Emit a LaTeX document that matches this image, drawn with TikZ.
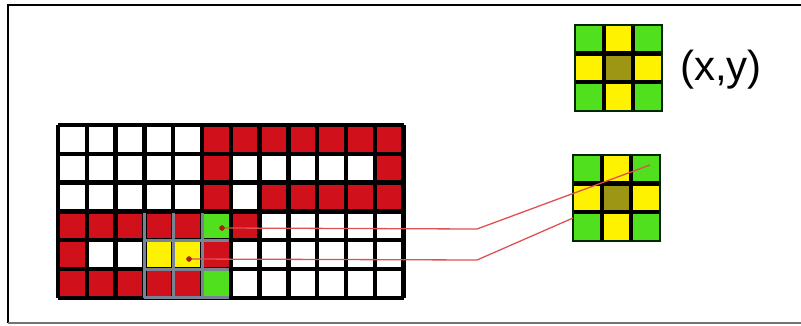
\documentclass[tikz,border=0pt]{standalone}
\usepackage{fontspec}
\setmainfont{Liberation Sans}
\definecolor{cw}{RGB}{255,255,255}
\definecolor{cr}{RGB}{208,16,26}
\definecolor{cg}{RGB}{80,224,30}
\definecolor{cy}{RGB}{255,242,0}
\definecolor{co}{RGB}{156,150,20}
\definecolor{linkred}{RGB}{224,80,80}
\definecolor{dotred}{RGB}{170,30,10}
\definecolor{blockgray}{RGB}{120,132,148}
\begin{document}
\begin{tikzpicture}[x=1pt,y=-1pt,
    gridline/.style={line width=4.5pt,black},
    link/.style={linkred,line width=1.3pt}]
  \useasboundingbox (0,0) rectangle (801,325);
  % frame
  \draw[line width=2pt] (801,5) -- (8,5) -- (8,323);
  \draw[line width=1.5pt,black!55] (8,323) -- (801,323);
  % image grid, 12 x 6 cells
  \foreach \cl [count=\r from 0] in {
      {cw,cw,cw,cw,cw,cr,cr,cr,cr,cr,cr,cr},
      {cw,cw,cw,cw,cw,cr,cw,cw,cw,cw,cw,cr},
      {cw,cw,cw,cw,cw,cr,cw,cr,cr,cr,cr,cr},
      {cr,cr,cr,cr,cr,cg,cr,cw,cw,cw,cw,cw},
      {cr,cw,cw,cy,cy,cr,cw,cw,cw,cw,cw,cw},
      {cr,cr,cr,cr,cr,cg,cw,cw,cw,cw,cw,cw}}{
    \foreach \c [count=\k from 0] in \cl
      \fill[\c] (58+\k*28.8,125+\r*28.8) rectangle ++(28.8,28.8);
  }
  \foreach \k in {0,...,12}
    \draw[gridline] (58+\k*28.8,125) -- (58+\k*28.8,297.8);
  \foreach \r in {0,...,6}
    \draw[gridline] (58,125+\r*28.8) -- (403.6,125+\r*28.8);
  % neighbourhood of the pixel
  \foreach \k in {3,...,5}
    \draw[blockgray,line width=3pt] (58+\k*28.8,213.4) -- (58+\k*28.8,297.8);
  \foreach \r in {4,...,6}
    \draw[blockgray,line width=3pt] (144.4,125+\r*28.8) -- (228.8,125+\r*28.8);
  % 3 x 3 masks
  \foreach \kx/\ky in {575/25,573/155}{
    \foreach \cl [count=\r from 0] in {{cg,cy,cg},{cy,co,cy},{cg,cy,cg}}{
      \foreach \c [count=\k from 0] in \cl
        \fill[\c] (\kx+\k*29,\ky+\r*28.5) rectangle ++(29,28.5);
    }
    \foreach \k in {1,2}{
      \draw[gridline] (\kx+\k*29,\ky) -- (\kx+\k*29,\ky+85.5);
      \draw[gridline] (\kx,\ky+\k*28.5) -- (\kx+87,\ky+\k*28.5);
    }
    \draw[line width=2pt,black!85!green] (\kx,\ky) rectangle (\kx+87,\ky+85.5);
  }
  \node (xy) at (721,70) {\fontsize{42}{48}\selectfont (x,y)};
  % links from pixels to the mask
  \coordinate (p1) at (222,228);
  \coordinate (b1) at (477,229);
  \coordinate (k1) at (650,165);
  \coordinate (p2) at (189,259);
  \coordinate (b2) at (477,260);
  \coordinate (k2) at (573,218);
  \draw[link] (p1) -- (b1) -- (k1);
  \draw[link] (p2) -- (b2) -- (k2);
  \filldraw[dotred] (p1) circle (2.5);
  \filldraw[dotred] (p2) circle (2.5);
\end{tikzpicture}
\end{document}
